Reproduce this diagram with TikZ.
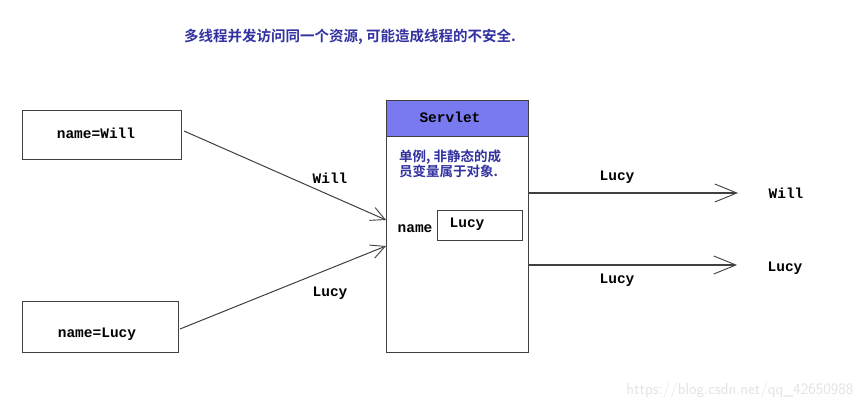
\documentclass[tikz,border=0pt]{standalone}
\usepackage{fontspec}
\setmonofont{Liberation Mono}
\newfontfamily\cjk{Noto Sans CJK SC}[BoldFont={Noto Sans CJK SC Bold}]
\usetikzlibrary{arrows.meta}
\definecolor{txtblue}{RGB}{50,50,160}
\definecolor{hdrblue}{RGB}{122,122,240}
\definecolor{wm}{RGB}{228,228,228}
\begin{document}
\begin{tikzpicture}[x=1pt,y=-1pt,
  mono/.style={font=\ttfamily\bfseries\fontsize{14.5}{16}\selectfont, inner sep=1pt},
  cn/.style={font=\cjk\bfseries\fontsize{14}{16}\selectfont, text=txtblue, inner sep=0pt},
  box/.style={draw=black!75, line width=1.2pt, inner sep=0pt},
  conn/.style={draw=black!75, line width=1pt, -{Straight Barb[length=14pt,width=14pt,line width=0.9pt]}},
  connR/.style={draw=black!75, line width=1.1pt, -{Straight Barb[length=22pt,width=18pt,line width=0.9pt]}}]
\useasboundingbox[fill=white] (0,0) rectangle (865,411);

% title
\node[cn, font=\cjk\bfseries\fontsize{14.5}{16}\selectfont] (title) at (350,37) {多线程并发访问同一个资源, 可能造成线程的不安全.};

% left boxes
\node[box, anchor=north west, minimum width=159pt, minimum height=49pt] (bw) at (22,110) {};
\node[mono] (bwt) at (96,133) {name=Will};
\node[box, anchor=north west, minimum width=156pt, minimum height=51pt] (bl) at (22,301) {};
\node[mono] (blt) at (97,334) {name=Lucy};

% servlet
\node[box, anchor=north west, minimum width=142pt, minimum height=252pt] (sv) at (386,100) {};
\node[box, fill=hdrblue, anchor=north west, minimum width=142pt, minimum height=36pt] (hdr) at (386,100) {};
\node[mono] (hdrt) at (450,117) {Servlet};
\node[cn, font=\cjk\bfseries\fontsize{13.5}{15}\selectfont, anchor=north west, align=left] (note) at (399,150) {单例, 非静态的成\\员变量属于对象.};
\node[mono] (nm) at (415,229) {name};
\node[box, anchor=north west, minimum width=85pt, minimum height=30pt] (val) at (437,210) {};
\node[mono] (valt) at (467,224) {Lucy};

% incoming
\coordinate (inA) at (386,220);
\coordinate (inB) at (386,246);
\coordinate (bwE) at (184,131);
\coordinate (blE) at (180,329);
\draw[conn] (bwE) -- (inA);
\draw[conn] (blE) -- (inB);
\node[mono] (lw) at (330,178) {Will};
\node[mono] (ll) at (330,293) {Lucy};

% outgoing
\coordinate (outA) at (528,193);
\coordinate (outB) at (528,265);
\coordinate (tipA) at (738,193);
\coordinate (tipB) at (737,265);
\draw[connR] (outA) -- (tipA);
\draw[connR] (outB) -- (tipB);
\node[mono] (la) at (617,177) {Lucy};
\node[mono] (lb) at (617,280) {Lucy};
\node[mono] (rw) at (786,193) {Will};
\node[mono] (rl) at (785,268) {Lucy};

% watermark
\node[font=\sffamily\fontsize{16}{18}\selectfont, text=wm, anchor=east] (wmk) at (857,391) {https://blog.csdn.net/qq\_42650988};
\end{tikzpicture}
\end{document}
